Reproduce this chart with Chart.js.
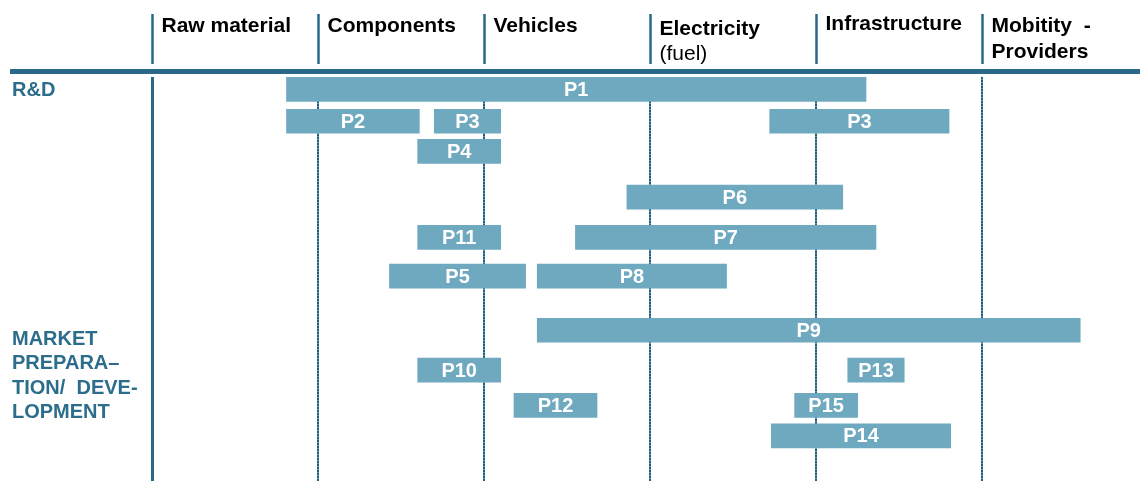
<!DOCTYPE html>
<html>
<head>
<meta charset="utf-8">
<script src="https://cdn.jsdelivr.net/npm/chart.js@4.4.0/dist/chart.umd.min.js"></script>
<style>
  html, body { margin: 0; padding: 0; background: #fff; }
  #wrap { width: 1140px; height: 481px; }
</style>
</head>
<body>
<div id="wrap"><canvas id="valueChain" width="1140" height="481"></canvas></div>
<script>
// value chain stages (columns of the header)
const columns = ["Raw material", "Components", "Vehicles", "Electricity", "Infrastructure", "Mobitity  -"];
const columnSub = ["", "", "", "(fuel)", "", "Providers"];

// projects: start / end in value-chain columns, lane = row from the top
const projects = ["P1", "P2", "P3", "P3", "P4", "P6", "P11", "P7", "P5", "P8", "P9", "P10", "P13", "P12", "P15", "P14"];
const starts   = [0.81, 0.81, 1.70, 3.72, 1.60, 2.86, 1.60, 2.55, 1.43, 2.32, 2.32, 1.60, 4.19, 2.18, 3.87, 3.73];
const ends     = [4.30, 1.61, 2.10, 4.80, 2.10, 4.16, 2.10, 4.36, 2.25, 3.46, 5.59, 2.10, 4.53, 2.68, 4.25, 4.81];
const lanes    = [0, 0.92, 0.92, 0.92, 1.79, 3.11, 4.27, 4.27, 5.39, 5.39, 6.95, 8.1, 8.1, 9.12, 9.12, 10];

// phases on the left
const phaseLanes = [0, 7.18];
const phaseText = [["R&D"], ["MARKET", "PREPARA\u2013", "TION/  DEVE-", "LOPMENT"]];

const DARK = "#2a6a88";
const BAR = "#6fa9c0";
const FONT = "'Liberation Sans', Arial, sans-serif";

const decor = {
  id: "decor",
  beforeDatasetsDraw(chart) {
    const ctx = chart.ctx;
    const xs = chart.scales.x;
    const area = chart.chartArea;
    ctx.save();
    // dotted lines between stages (light under-line + dark dots)
    for (let i = 1; i < columns.length; i++) {
      const x = Math.round(xs.getPixelForValue(i));
      ctx.lineWidth = 2;
      ctx.setLineDash([]);
      ctx.strokeStyle = "#5d9bb6";
      ctx.beginPath();
      ctx.moveTo(x, area.top + 5);
      ctx.lineTo(x, area.bottom);
      ctx.stroke();
      ctx.setLineDash([2, 1]);
      ctx.strokeStyle = "#235f7c";
      ctx.beginPath();
      ctx.moveTo(x, area.top + 5);
      ctx.lineTo(x, area.bottom);
      ctx.stroke();
    }
    // solid line on the left
    ctx.setLineDash([]);
    ctx.strokeStyle = DARK;
    ctx.lineWidth = 3;
    const x0 = Math.round(xs.getPixelForValue(0)) + 0.5;
    ctx.beginPath();
    ctx.moveTo(x0, area.top + 5);
    ctx.lineTo(x0, area.bottom);
    ctx.stroke();
    ctx.restore();
  },
  afterDatasetsDraw(chart) {
    const ctx = chart.ctx;
    const meta = chart.getDatasetMeta(0);
    ctx.save();
    ctx.fillStyle = "#fff";
    ctx.font = "bold 20px " + FONT;
    ctx.textAlign = "center";
    ctx.textBaseline = "middle";
    meta.data.forEach(function (bar, i) {
      const cx = (bar.x + bar.base) / 2;
      ctx.fillText(projects[i], cx, bar.y + 1);
    });
    ctx.restore();
  },
  afterDraw(chart) {
    const ctx = chart.ctx;
    const xs = chart.scales.x;
    const ys = chart.scales.y;
    ctx.save();

    // thick rule under the header
    ctx.strokeStyle = DARK;
    ctx.lineWidth = 5;
    ctx.beginPath();
    ctx.moveTo(10, 71.5);
    ctx.lineTo(chart.width, 71.5);
    ctx.stroke();

    // header columns
    const dy = [0, 0, 0, 3, -2, 0];
    ctx.textAlign = "left";
    ctx.textBaseline = "middle";
    for (let i = 0; i < columns.length; i++) {
      const x = Math.round(xs.getPixelForValue(i)) + 0.5;
      ctx.lineWidth = 2.5;
      ctx.beginPath();
      ctx.moveTo(x, 14);
      ctx.lineTo(x, 64);
      ctx.stroke();
      ctx.fillStyle = "#000";
      ctx.font = "bold 21px " + FONT;
      ctx.fillText(columns[i], x + 9, 26 + dy[i]);
      if (columnSub[i]) {
        ctx.font = (i === 3 ? "" : "bold ") + "21px " + FONT;
        ctx.fillText(columnSub[i], x + 9, 52 + (i === 3 ? 2 : 0));
      }
    }

    // phase labels
    ctx.fillStyle = "#2c6d8c";
    ctx.font = "bold 20px " + FONT;
    phaseText.forEach(function (lines, p) {
      const y0 = ys.getPixelForValue(phaseLanes[p]);
      lines.forEach(function (t, k) {
        ctx.fillText(t, 12, y0 + 1 + k * 24.5);
      });
    });
    ctx.restore();
  }
};

const points = projects.map(function (p, i) {
  return { x: [starts[i], ends[i]], y: lanes[i] };
});

new Chart(document.getElementById("valueChain"), {
  type: "bar",
  data: {
    datasets: [{
      label: "Projects",
      data: points,
      backgroundColor: BAR,
      borderWidth: 0,
      borderSkipped: false,
      barThickness: 24
    }]
  },
  options: {
    indexAxis: "y",
    responsive: false,
    animation: false,
    layout: { padding: { left: 152, right: 0, top: 72, bottom: 0 } },
    scales: {
      x: { type: "linear", min: 0, max: 5.95, display: false },
      y: { type: "linear", min: -0.5, max: 11.3, reverse: true, offset: false, display: false }
    },
    plugins: {
      legend: { display: false },
      tooltip: { enabled: false }
    }
  },
  plugins: [decor]
});
</script>
</body>
</html>
